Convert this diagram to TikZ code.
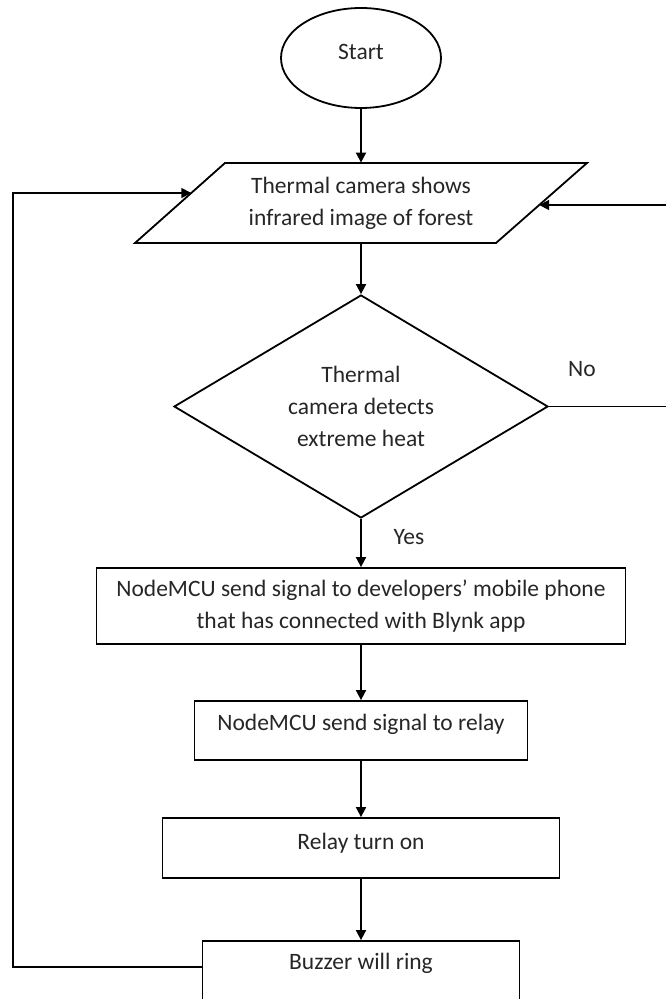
\documentclass[tikz,border=0pt]{standalone}
\usepackage{fontspec}
\setmainfont{Carlito}
\usetikzlibrary{shapes.geometric,arrows.meta}
\newcommand{\upby}[2]{\raisebox{#1}[\height][\depth]{#2}}
\begin{document}
\begin{tikzpicture}[x=0.5pt,y=-0.5pt,
  every node/.style={font=\fontsize{11.75}{16}\selectfont, inner sep=0pt, text=black!85},
  shp/.style={draw, line width=0.9pt},
  box/.style={shp, rectangle, align=center},
  arr/.style={line width=0.9pt, -{Triangle[length=5pt,width=5pt]}},
  lbl/.style={}]
\useasboundingbox (0,0) rectangle (665,999);

% start
\node[shp, ellipse, minimum width=80pt, minimum height=50pt] (start) at (361,58) {\upby{3pt}{Start}};

% input parallelogram
\draw[shp] (225,163) -- (587,163) -- (496,243) -- (135,243) -- cycle;
\node[rectangle, minimum width=180pt, minimum height=40pt, align=center] (input) at (361,203)
  {Thermal camera shows\\infrared image of forest};
\coordinate (inL) at (191.25,193);
\coordinate (inR) at (539.2,205);

% decision
\node[shp, diamond, aspect=1.68, minimum width=187pt, minimum height=111.5pt, align=center] (dec) at (361,406.5)
  {Thermal\\camera detects\\extreme heat};

% process boxes
\node[box, minimum width=264.5pt, minimum height=38pt] (b1) at (361,606)
  {NodeMCU send signal to developers’ mobile phone\\that has connected with Blynk app};
\node[box, minimum width=166.5pt, minimum height=29.5pt] (b2) at (361,730.5)
  {\upby{3.2pt}{NodeMCU send signal to relay}};
\node[box, minimum width=198.5pt, minimum height=30pt] (b3) at (361,848)
  {\upby{2.5pt}{Relay turn on}};
\node[box, minimum width=158.5pt, minimum height=30pt] (b4) at (361,971)
  {\upby{4pt}{Buzzer will ring}};

% labels
\node[lbl] (yes) at (409,537) {Yes};
\node[lbl] (no) at (582,369) {No};

% connectors
\coordinate (rt) at (667,406.5);
\coordinate (lf) at (13,193);
\draw[arr] (start) -- (input);
\draw[arr] (input) -- (dec);
\draw[arr] (dec) -- (b1);
\draw[arr] (b1) -- (b2);
\draw[arr] (b2) -- (b3);
\draw[arr] (b3) -- (b4);
\draw[arr] (dec.east) -- (rt) |- (inR);
\draw[arr] ([yshift=2pt]b4.west) -| (lf) -- (inL);
\end{tikzpicture}
\end{document}
